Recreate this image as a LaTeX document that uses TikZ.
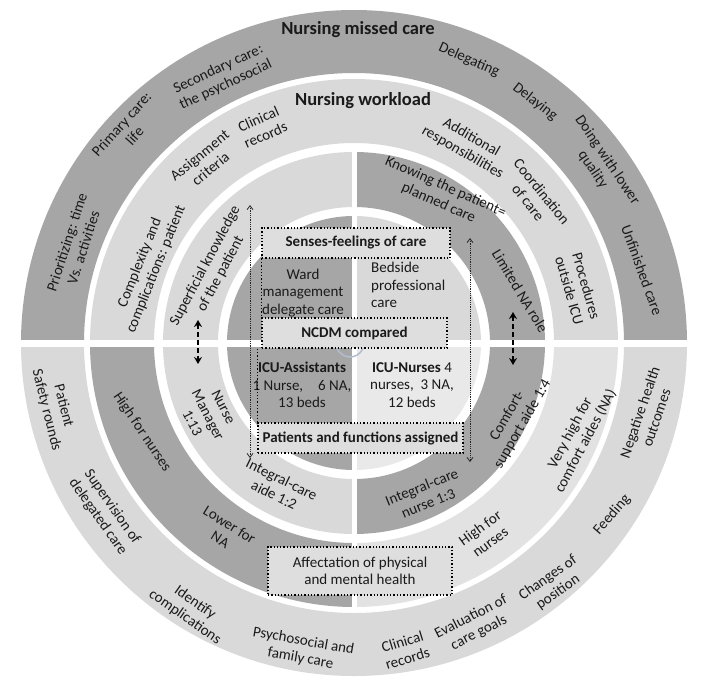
\documentclass[tikz,border=0pt]{standalone}
\usepackage{fontspec}
\setmainfont{Carlito}
\usetikzlibrary{arrows.meta}
\definecolor{ringdark}{HTML}{A6A6A6}
\definecolor{ringlight}{HTML}{D9D9D9}
\definecolor{ringpale}{HTML}{E2E2E2}
\definecolor{ringpalest}{HTML}{E9E9E9}
\definecolor{boxfill}{HTML}{DEDEDE}
\definecolor{arcblue}{HTML}{B4BCD2}
\definecolor{txt}{HTML}{1A1A1A}
\newcommand\ringpart[5]{\fill[#1] (#2:#5) arc[start angle=#2, end angle=#3, radius=#5] -- (#3:#4) arc[start angle=#3, end angle=#2, radius=#4] -- cycle;}
\begin{document}
\begin{tikzpicture}[x=1pt, y=1pt,
    lbl/.style={font=\fontsize{15}{17.5}\selectfont, text=txt, align=center, inner sep=0pt},
    ttl/.style={font=\fontsize{18.5}{21}\selectfont\bfseries, text=txt, inner sep=0pt},
    dbox/.style={draw, dotted, line width=1.3pt, fill=boxfill, inner sep=0pt, align=center, text=txt, font=\fontsize{15}{17.5}\selectfont},
    dline/.style={draw, dotted, line width=1.3pt},
    thinarr/.style={{Straight Barb[length=4pt,width=6pt]}-{Straight Barb[length=4pt,width=6pt]}, densely dotted, black!85, line width=0.8pt},
    thickarr/.style={{Stealth[length=7pt,width=8pt]}-{Stealth[length=7pt,width=8pt]}, dash pattern=on 5pt off 3pt, line width=2pt}]
    \useasboundingbox (-354,-346) rectangle (347,343);
    \fill[white] (-354,-346) rectangle (347,343);
    \ringpart{ringdark}{0}{180}{270}{333}
    \ringpart{ringlight}{180}{360}{270}{333}
    \ringpart{ringlight}{0}{180}{200}{264}
    \ringpart{ringdark}{180}{270}{200}{264}
    \ringpart{ringpale}{270}{360}{200}{264}
    \ringpart{ringdark}{0}{90}{136}{191}
    \ringpart{ringlight}{90}{180}{136}{191}
    \ringpart{ringlight}{180}{270}{136}{191}
    \ringpart{ringdark}{270}{360}{136}{191}
    \fill[ringlight] (0,0) -- (0:127) arc[start angle=0, end angle=90, radius=127] -- cycle;
    \fill[ringdark] (0,0) -- (90:127) arc[start angle=90, end angle=270, radius=127] -- cycle;
    \fill[ringpalest] (0,0) -- (270:127) arc[start angle=270, end angle=360, radius=127] -- cycle;
    \fill[white] (-350,-4) rectangle (350,3);
    \fill[white] (-2.5,-268) rectangle (2.5,195);

    \node[ttl] (missed) at (4,313) {Nursing missed care};
    \node[lbl, rotate=25] (secondary) at (-132,266) {Secondary care:\\the psychosocial};
    \node[lbl, rotate=48] (primary) at (-226,213) {Primary care:\\life};
    \node[lbl, rotate=72] (prior) at (-279,98) {Prioritizing: time\\Vs. activities};
    \node[lbl, rotate=-24] (delegating) at (115,283) {Delegating};
    \node[lbl, rotate=-38] (delaying) at (181,241) {Delaying};
    \node[lbl, rotate=-56] (lowerq) at (246,178) {Doing with lower\\quality};
    \node[lbl, rotate=-70] (unfinished) at (288,73) {Unfinished care};

    \node[ttl] (workload) at (9,242) {Nursing workload};
    \node[lbl, rotate=24] (clinrec) at (-92,216) {Clinical\\records};
    \node[lbl, rotate=39] (assign) at (-149,181) {Assignment\\criteria};
    \node[lbl, rotate=68] (complex) at (-206,77) {Complexity and\\complications: patient};
    \node[lbl, rotate=-30] (addresp) at (113,198) {Additional\\responsibilities};
    \node[lbl, rotate=-51] (coord) at (181,146) {Coordination\\of care};
    \node[lbl, rotate=-74] (procout) at (224,55) {Procedures\\outside ICU};

    \node[lbl, rotate=62] (superf) at (-141,73) {Superficial knowledge\\of the patient};
    \node[lbl, rotate=-24] (knowing) at (88,148) {Knowing the patient=\\planned care};
    \node[lbl, rotate=-59] (limited) at (166,52) {Limited NA role};

    \node[lbl] (ward) at (-51,50) {Ward\\management\\delegate care};
    \node[lbl, anchor=west, align=left] (bedside) at (17,58) {Bedside\\professional\\care};
    \node[lbl] (icuasst) at (-52,-42) {\textbf{ICU-Assistants}\\1 Nurse,\quad 6 NA,\\13 beds};
    \node[lbl] (icunurse) at (58,-42) {\textbf{ICU-Nurses} 4\\nurses,\ \ 3 NA,\\12 beds};

    \node[lbl, rotate=-63] (nursemgr) at (-146,-72) {Nurse\\Manager\\1:13};
    \node[lbl, rotate=-26] (intaide) at (-76,-144) {Integral-care\\aide 1:2};
    \node[lbl, rotate=22] (intnurse) at (71,-152) {Integral-care\\nurse 1:3};
    \node[lbl, rotate=60] (comfort) at (161,-77) {Comfort-\\support aide 1:4};

    \node[lbl, rotate=-56] (highn) at (-212,-89) {High for nurses};
    \node[lbl, rotate=-32] (lowerna) at (-129,-189) {Lower for\\NA};
    \node[lbl, rotate=36] (highnr) at (131,-192) {High for\\nurses};
    \node[lbl, rotate=62] (veryhigh) at (224,-94) {Very high for\\comfort aides (NA)};

    \node[lbl, rotate=-76] (safety) at (-299,-65) {Patient\\Safety rounds};
    \node[lbl, rotate=-55] (supervision) at (-249,-169) {Supervision of\\delegated care};
    \node[lbl, rotate=-35] (identify) at (-164,-267) {Identify\\complications};
    \node[lbl, rotate=-10] (psychosoc) at (-52,-307) {Psychosocial and\\family care};
    \node[lbl, rotate=17] (clinrecb) at (51,-307) {Clinical\\records};
    \node[lbl, rotate=27] (evaluation) at (121,-282) {Evaluation of\\care goals};
    \node[lbl, rotate=35] (changes) at (199,-242) {Changes of\\position};
    \node[lbl, rotate=49] (feeding) at (258,-172) {Feeding};
    \node[lbl, rotate=71] (neghealth) at (294,-72) {Negative health\\outcomes};

    \draw[arcblue, line width=1.5pt] (-4,0) ++(195:14) arc[start angle=195, end angle=345, radius=14];

    \node[dbox, minimum width=188pt, minimum height=30pt] (senses) at (2,100) {\textbf{Senses-feelings of care}};
    \node[dbox, minimum width=185pt, minimum height=30pt] (ncdm) at (0.5,10) {\textbf{NCDM compared}};
    \node[dbox, minimum width=205pt, minimum height=30pt] (patfun) at (6.5,-95) {\textbf{Patients and functions assigned}};
    \node[dbox, minimum width=184pt, minimum height=48pt] (affect) at (6,-228) {Affectation of physical\\and mental health};
    \draw[dline] (senses.south west) -- (ncdm.north west);
    \draw[dline] ([xshift=-4pt]ncdm.south west) -- (patfun.north west);

    \coordinate (ltop) at (-104,138);
    \coordinate (lbot) at (-104,-115);
    \coordinate (rtop) at (116,105);
    \coordinate (rbot) at (116,-119);
    \draw[thinarr] (ltop) -- (lbot);
    \draw[thinarr] (rtop) -- (rbot);

    \coordinate (lup) at (-156,23);
    \coordinate (ldown) at (-156,-21);
    \coordinate (rup) at (159,31);
    \coordinate (rdown) at (159,-22);
    \draw[thickarr] (lup) -- (ldown);
    \draw[thickarr] (rup) -- (rdown);
\end{tikzpicture}
\end{document}
